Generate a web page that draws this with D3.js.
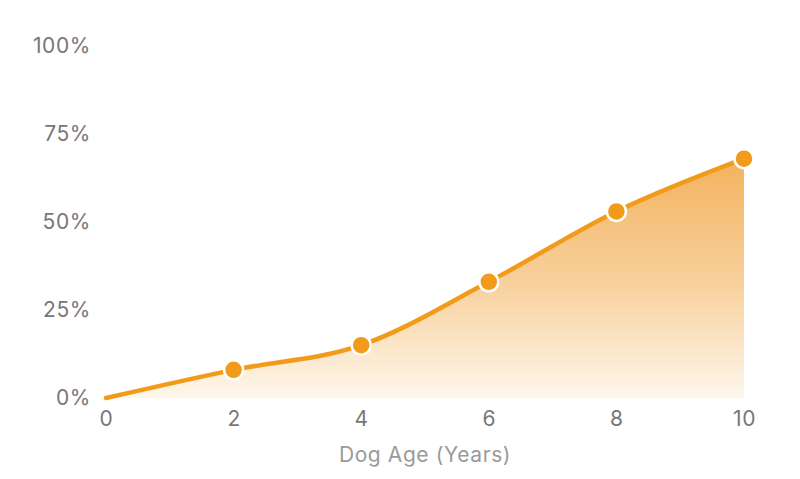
<!DOCTYPE html>
<html>
<head>
<meta charset="utf-8">
<script src="https://cdn.jsdelivr.net/npm/d3@7"></script>
<style>
  body { margin: 0; background: #fff; }
  #chart { width: 800px; height: 479px; }
  .tick text { font-family: Inter, "Open Sans", sans-serif; font-weight: 400; letter-spacing: 0.6px; }
</style>
</head>
<body>
<div id="chart"></div>
<script>
// dog age in years and share (%)
const ages = [0, 2, 4, 6, 8, 10];
const shares = [0, 8, 15, 33, 53, 68];
const yTicks = [0, 25, 50, 75, 100];
const xTicks = [0, 2, 4, 6, 8, 10];
const xTitle = "Dog Age (Years)";

const margin = { top: 46, right: 56, bottom: 81, left: 106 };
const width = 800 - margin.left - margin.right;
const height = 479 - margin.top - margin.bottom;

const data = ages.map((a, i) => ({ age: a, share: shares[i] }));

const svg = d3.select("#chart").append("svg")
  .attr("width", 800)
  .attr("height", 479)
  .append("g")
  .attr("transform", `translate(${margin.left},${margin.top})`);

const x = d3.scaleLinear().domain([0, 10]).range([0, width]);
const y = d3.scaleLinear().domain([0, 100]).range([height, 0]);

// gradient for the area
const defs = svg.append("defs");
const grad = defs.append("linearGradient")
  .attr("id", "areaGrad")
  .attr("gradientUnits", "userSpaceOnUse")
  .attr("x1", 0).attr("x2", 0)
  .attr("y1", y(70)).attr("y2", y(0));
grad.append("stop").attr("offset", "0%").attr("stop-color", "#f0a23a").attr("stop-opacity", 0.85);
grad.append("stop").attr("offset", "55%").attr("stop-color", "#f6c27e").attr("stop-opacity", 0.75);
grad.append("stop").attr("offset", "100%").attr("stop-color", "#fdf3e2").attr("stop-opacity", 0.7);

const curve = d3.curveMonotoneX;

svg.append("path")
  .datum(data)
  .attr("fill", "url(#areaGrad)")
  .attr("d", d3.area().curve(curve).x(d => x(d.age)).y0(y(0)).y1(d => y(d.share)));

svg.append("path")
  .datum(data)
  .attr("fill", "none")
  .attr("stroke", "#f29b1b")
  .attr("stroke-width", 4.5)
  .attr("stroke-linecap", "round")
  .attr("d", d3.line().curve(curve).x(d => x(d.age)).y(d => y(d.share)));

// points (skip the origin, it has no marker)
svg.selectAll(".dot")
  .data(data.filter(d => d.age > 0))
  .enter().append("circle")
  .attr("class", "dot")
  .attr("cx", d => x(d.age))
  .attr("cy", d => y(d.share))
  .attr("r", 9.5)
  .attr("fill", "#f29b1b")
  .attr("stroke", "#fff")
  .attr("stroke-width", 2.5);

// axes
const yAxis = d3.axisLeft(y).tickValues(yTicks).tickFormat(d => d + "%").tickSize(0).tickPadding(15);
const gy = svg.append("g").call(yAxis);
gy.select(".domain").remove();
gy.selectAll("text").attr("fill", "#777").style("font-size", "21px");

const xAxis = d3.axisBottom(x).tickValues(xTicks).tickSize(0).tickPadding(13);
const gx = svg.append("g").attr("transform", `translate(0,${height})`).call(xAxis);
gx.select(".domain").remove();
gx.selectAll("text").attr("fill", "#777").style("font-size", "21px");

svg.append("text")
  .attr("x", width / 2)
  .attr("y", height + 64)
  .attr("text-anchor", "middle")
  .attr("fill", "#9a9a9a")
  .style("font-family", "Inter, 'Open Sans', sans-serif")
  .style("font-size", "21px")
  .style("letter-spacing", "0.6px")
  .text(xTitle);
</script>
</body>
</html>
